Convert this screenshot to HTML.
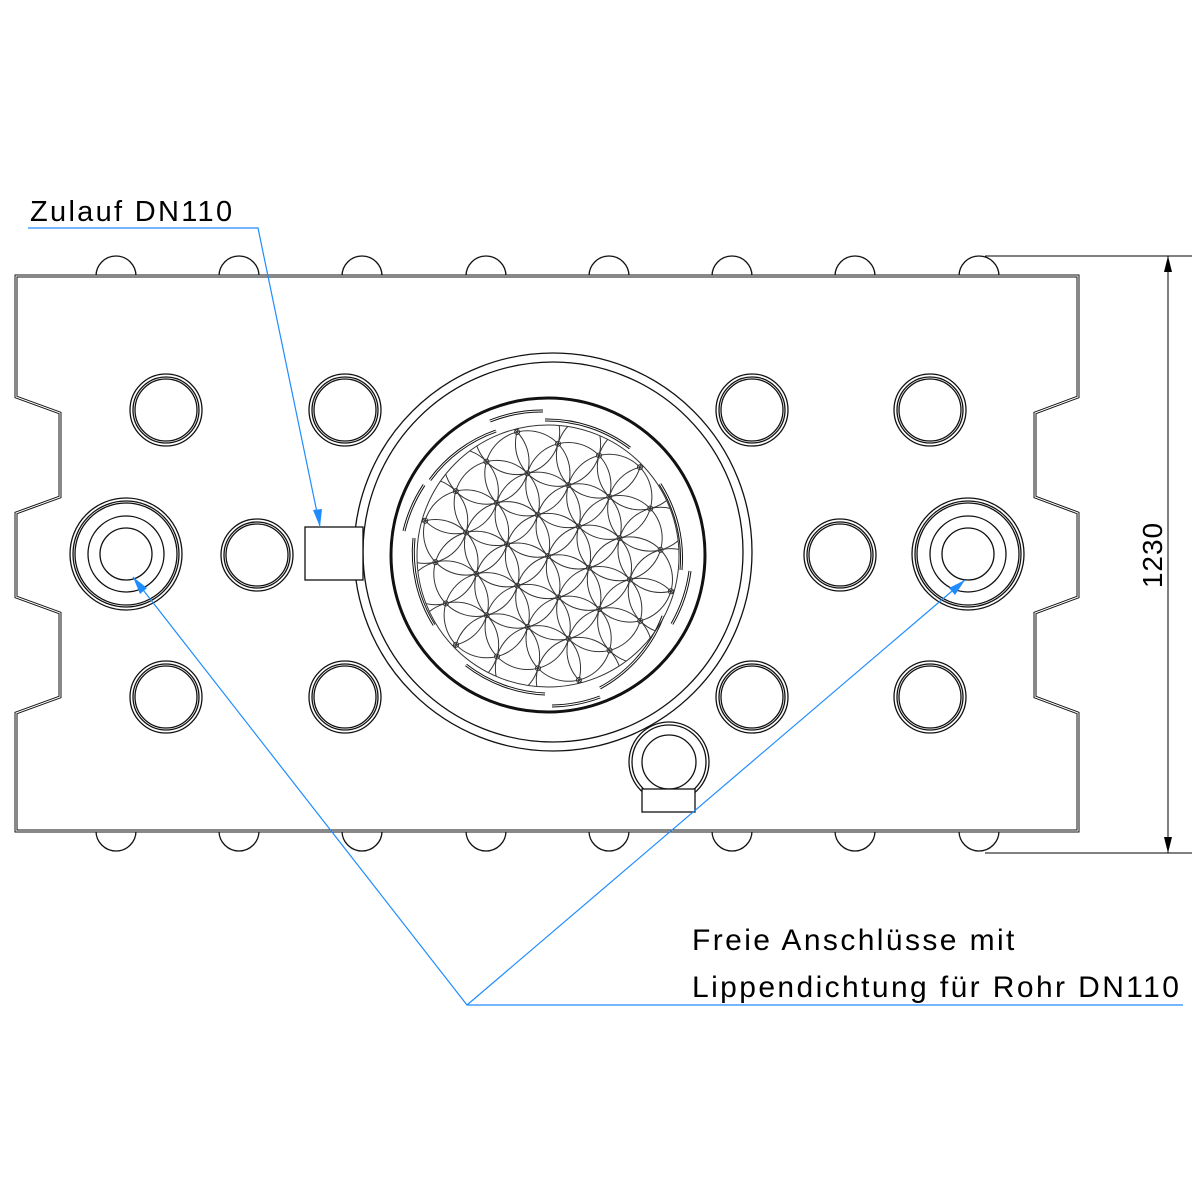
<!DOCTYPE html>
<html><head><meta charset="utf-8"><style>
html,body{margin:0;padding:0;background:#fff}
svg{display:block}
text{font-family:"Liberation Sans",sans-serif;fill:#000}
</style></head><body>
<svg width="1200" height="1200" viewBox="0 0 1200 1200" xmlns="http://www.w3.org/2000/svg">
<g fill="none" stroke="#111" stroke-width="1.3">
<g id="bt">
<path d="M96,276 A20,20 0 0 1 136,276"/><path d="M219,276 A20,20 0 0 1 259,276"/><path d="M342,276 A20,20 0 0 1 382,276"/><path d="M466,276 A20,20 0 0 1 506,276"/><path d="M589,276 A20,20 0 0 1 629,276"/><path d="M712,276 A20,20 0 0 1 752,276"/><path d="M835,276 A20,20 0 0 1 875,276"/><path d="M959,276 A20,20 0 0 1 999,276"/>
</g>
<path d="M96,831 A20,20 0 0 0 136,831"/><path d="M219,831 A20,20 0 0 0 259,831"/><path d="M342,831 A20,20 0 0 0 382,831"/><path d="M466,831 A20,20 0 0 0 506,831"/><path d="M589,831 A20,20 0 0 0 629,831"/><path d="M712,831 A20,20 0 0 0 752,831"/><path d="M835,831 A20,20 0 0 0 875,831"/><path d="M959,831 A20,20 0 0 0 999,831"/>
<path stroke-width="3" d="M16,276 L1078,276 L1078,397 L1035,413 L1035,497 L1078,513 L1078,597 L1035,613 L1035,697 L1078,713 L1078,831 L16,831 L16,713 L60,697 L60,613 L16,597 L16,513 L60,497 L60,413 L16,397 Z"/>
<path stroke="#fff" stroke-width="1" d="M16,276 L1078,276 L1078,397 L1035,413 L1035,497 L1078,513 L1078,597 L1035,613 L1035,697 L1078,713 L1078,831 L16,831 L16,713 L60,697 L60,613 L16,597 L16,513 L60,497 L60,413 L16,397 Z"/>
<g id="sp">
<circle cx="166" cy="410" r="36"/><circle cx="166" cy="410" r="33"/><circle cx="166" cy="410" r="31"/>
<circle cx="345" cy="410" r="36"/><circle cx="345" cy="410" r="33"/><circle cx="345" cy="410" r="31"/>
<circle cx="752" cy="410" r="36"/><circle cx="752" cy="410" r="33"/><circle cx="752" cy="410" r="31"/>
<circle cx="930" cy="410" r="36"/><circle cx="930" cy="410" r="33"/><circle cx="930" cy="410" r="31"/>
<circle cx="166" cy="697" r="36"/><circle cx="166" cy="697" r="33"/><circle cx="166" cy="697" r="31"/>
<circle cx="345" cy="697" r="36"/><circle cx="345" cy="697" r="33"/><circle cx="345" cy="697" r="31"/>
<circle cx="752" cy="697" r="36"/><circle cx="752" cy="697" r="33"/><circle cx="752" cy="697" r="31"/>
<circle cx="930" cy="697" r="36"/><circle cx="930" cy="697" r="33"/><circle cx="930" cy="697" r="31"/>
<circle cx="257" cy="555" r="36"/><circle cx="257" cy="555" r="33"/><circle cx="257" cy="555" r="31"/>
<circle cx="840" cy="555" r="36"/><circle cx="840" cy="555" r="33"/><circle cx="840" cy="555" r="31"/>
</g>
<circle cx="126" cy="554" r="56"/><circle cx="126" cy="554" r="53"/><circle cx="126" cy="554" r="51"/><circle cx="126" cy="554" r="38"/><circle cx="126" cy="554" r="26"/>
<circle cx="968" cy="554" r="56"/><circle cx="968" cy="554" r="53"/><circle cx="968" cy="554" r="51"/><circle cx="968" cy="554" r="38"/><circle cx="968" cy="554" r="26"/>
<circle cx="553" cy="552" r="199" fill="#fff"/><circle cx="553" cy="552" r="190"/>
<circle cx="548" cy="555" r="157" stroke-width="3"/>
<rect x="305" y="527" width="58" height="53" fill="#fff"/>
<g stroke-width="3">
<path d="M490,421 A140,140 0 0 1 543,411" /><path d="M545,420 A138,138 0 0 1 630,448"/><path d="M660,484 A138,138 0 0 1 681,570"/><path d="M690,571 A145,145 0 0 1 672,624"/><path d="M663,616 A138,138 0 0 1 600,688"/><path d="M600,697 A145,145 0 0 1 552,706"/><path d="M545,694 A138,138 0 0 1 466,665"/><path d="M434,625 A138,138 0 0 1 414,538"/><path d="M404,531 A145,145 0 0 1 424,485"/><path d="M430,480 A138,138 0 0 1 496,431"/>
</g>
<circle cx="669" cy="762" r="40"/><circle cx="669" cy="762" r="37"/><circle cx="669" cy="762" r="27" fill="#fff"/>
<rect x="642" y="789" width="53" height="23" fill="#fff"/>
</g>
<g fill="none" stroke="#fff" stroke-width="1">
<path d="M490,421 A140,140 0 0 1 543,411" /><path d="M545,420 A138,138 0 0 1 630,448"/><path d="M660,484 A138,138 0 0 1 681,570"/><path d="M690,571 A145,145 0 0 1 672,624"/><path d="M663,616 A138,138 0 0 1 600,688"/><path d="M600,697 A145,145 0 0 1 552,706"/><path d="M545,694 A138,138 0 0 1 466,665"/><path d="M434,625 A138,138 0 0 1 414,538"/><path d="M404,531 A145,145 0 0 1 424,485"/><path d="M430,480 A138,138 0 0 1 496,431"/>
</g>
<defs><clipPath id="fc"><circle cx="548" cy="556" r="131"/></clipPath></defs>
<g id="flower" clip-path="url(#fc)" fill="none" stroke="#333" stroke-width="1"></g>
<circle cx="548" cy="556" r="131" fill="none" stroke="#333" stroke-width="1"/>
<g stroke="#000" stroke-width="1" fill="none">
<line x1="985" y1="256" x2="1192" y2="256"/><line x1="985" y1="853" x2="1192" y2="853"/>
<line x1="1168" y1="256" x2="1168" y2="853"/>
</g>
<path d="M1168,256 L1164,272 L1172,272 Z M1168,853 L1164,837 L1172,837 Z" fill="#000"/>
<text x="1168" y="555" font-size="28" text-anchor="middle" transform="rotate(-90 1168 555) translate(0,-6)" letter-spacing="1">1230</text>
<g stroke="#1e8cff" stroke-width="1.2" fill="none">
<polyline points="28,228 258,228 320,527"/>
<polyline points="1183,1005 467,1005 133,577"/>
<line x1="467" y1="1005" x2="965" y2="580"/>
</g>
<g fill="#1e8cff">
<path d="M320,527 L313,510 L322,509 Z"/>
<path d="M133,577 L140,594 L147,588 Z"/>
<path d="M965,580 L949,588 L955,595 Z"/>
</g>
<text x="30" y="221" font-size="29" letter-spacing="2.3">Zulauf DN110</text>
<text x="692" y="950" font-size="30" letter-spacing="2.4">Freie Anschlüsse mit</text>
<text x="692" y="997" font-size="30" letter-spacing="2.4">Lippendichtung für Rohr DN110</text>
</svg>
<script>
(function(){
var g=document.getElementById('flower'),ns='http://www.w3.org/2000/svg';
var cx=548,cy=556,R=42.6,a=16*Math.PI/180,b=76*Math.PI/180;
var v1=[R*Math.cos(a),R*Math.sin(a)],v2=[R*Math.cos(b),R*Math.sin(b)];
for(var i=-6;i<=6;i++)for(var j=-6;j<=6;j++){
var x=cx+i*v1[0]+j*v2[0],y=cy+i*v1[1]+j*v2[1];
if(Math.hypot(x-cx,y-cy)>140)continue;
var c=document.createElementNS(ns,'circle');c.setAttribute('cx',x);c.setAttribute('cy',y);c.setAttribute('r',R);g.appendChild(c);
var d=document.createElementNS(ns,'circle');d.setAttribute('cx',x);d.setAttribute('cy',y);d.setAttribute('r',2.5);g.appendChild(d);
}})();
</script>
</body></html>
